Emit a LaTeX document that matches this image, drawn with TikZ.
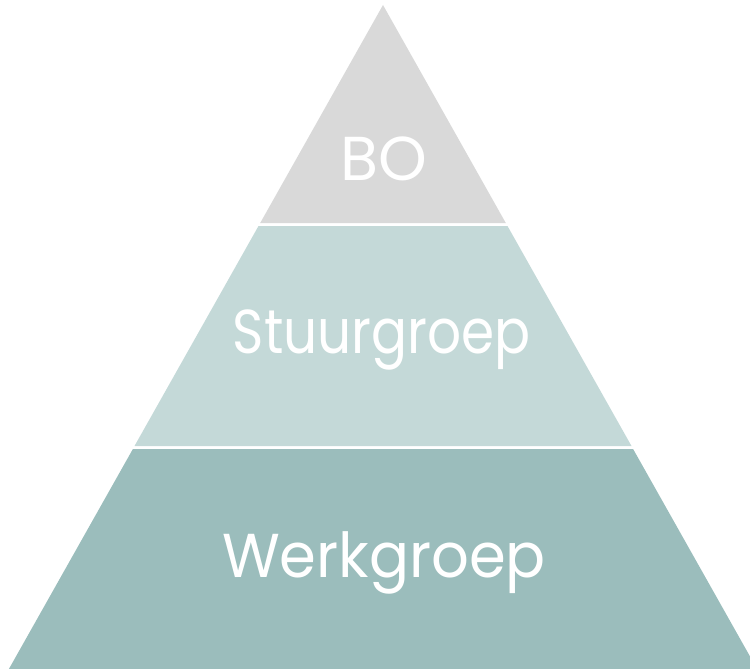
\documentclass[tikz,border=0pt]{standalone}
\usepackage{fontspec}
\setmainfont{Poppins}
\definecolor{topgrey}{HTML}{D9D9D9}
\definecolor{midteal}{HTML}{C4D9D8}
\definecolor{lowteal}{HTML}{9BBDBC}
\begin{document}
\begin{tikzpicture}[x=1pt,y=-1pt,
  lab/.style={text=white,anchor=base,inner sep=0pt,font=\fontsize{62}{62}\selectfont}]
\useasboundingbox (0,0) rectangle (750,669);
\fill[topgrey] (383,5) -- (505.8,223) -- (260.2,223) -- cycle;
\fill[midteal] (258.5,226) -- (507.5,226) -- (631.5,446) -- (134.5,446) -- cycle;
\fill[lowteal] (132.9,449) -- (633.1,449) -- (757.1,669) -- (8.9,669) -- cycle;
\node[lab] (bo) at (384,180) {BO};
\node[lab] (stuur) at (382,353) {\scalebox{0.86}[1]{Stuurgroep}};
\node[lab] (werk) at (384,577) {\scalebox{0.955}[1]{Werkgroep}};
\end{tikzpicture}
\end{document}
